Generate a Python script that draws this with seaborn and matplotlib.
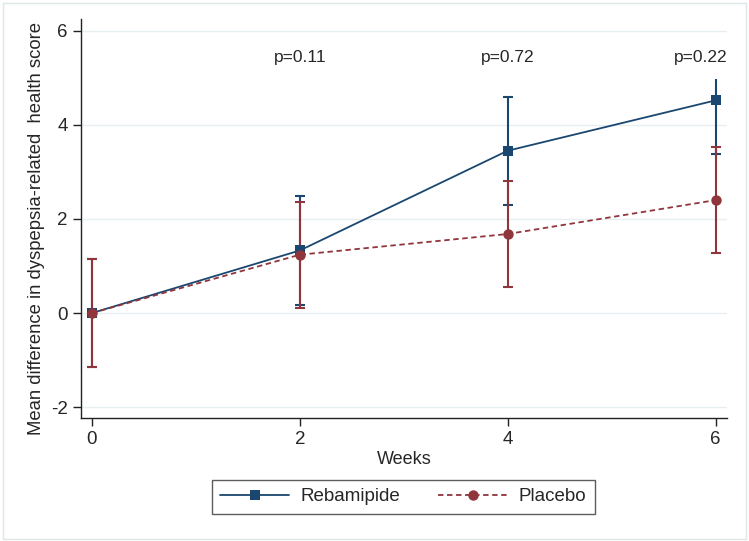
import pandas as pd
import matplotlib
matplotlib.use('Agg')
import matplotlib.pyplot as plt
import numpy as np
import seaborn as sns
from matplotlib.patches import Rectangle

## Data
weeks = [0, 2, 4, 6]
rebamipide_mean = [0.0, 1.33, 3.45, 4.52]
rebamipide_ci = [1.15, 1.16, 1.15, 1.14]
placebo_mean = [0.0, 1.24, 1.68, 2.40]
placebo_ci = [1.15, 1.13, 1.13, 1.13]
p_labels = ['p=0.11', 'p=0.72', 'p=0.22']
p_weeks = [2, 4, 5.86]
y_ticks = [-2, 0, 2, 4, 6]
y_ticklabels = ['-2', '0', '2', '4', '6']

blue = '#1a476f'
red = '#90353b'

df = pd.DataFrame({
    'Weeks': weeks + weeks,
    'score': rebamipide_mean + placebo_mean,
    'group': ['Rebamipide'] * 4 + ['Placebo'] * 4,
})

sns.set_style('white')
plt.rcParams['font.family'] = ['Liberation Sans', 'DejaVu Sans']

fig = plt.figure(figsize=(7.49, 5.41), dpi=100)
ax = fig.add_axes([0.108, 0.2274, 0.8626, 0.7375])

# confidence intervals
ax.errorbar(weeks, rebamipide_mean, yerr=rebamipide_ci, fmt='none', ecolor=blue,
            elinewidth=1.5, capsize=3.5, capthick=1.5, zorder=2)
ax.errorbar(weeks, placebo_mean, yerr=placebo_ci, fmt='none', ecolor=red,
            elinewidth=1.5, capsize=3.5, capthick=1.5, zorder=2.5)

sns.lineplot(data=df, x='Weeks', y='score', hue='group', style='group',
             palette={'Rebamipide': blue, 'Placebo': red},
             markers={'Rebamipide': 's', 'Placebo': 'o'},
             dashes={'Rebamipide': '', 'Placebo': (3, 2)},
             markersize=7.5, markeredgewidth=0, linewidth=1.3, ax=ax, zorder=3)

# red on top of blue
for ln in ax.get_lines():
    if matplotlib.colors.to_hex(ln.get_color()) == red:
        ln.set_zorder(4)

for lab, xw in zip(p_labels, p_weeks):
    ax.text(xw, 5.43, lab, ha='center', va='center', fontsize=12.5, zorder=6,
            bbox=dict(facecolor='white', edgecolor='none', pad=10))

ax.set_xlim(-0.106, 6.11)
ax.set_ylim(-2.23, 6.25)
ax.set_xticks(weeks)
ax.set_yticks(y_ticks)
ax.set_yticklabels(y_ticklabels)
ax.yaxis.grid(True, color='#e8eff1', linewidth=1)
ax.xaxis.grid(False)
ax.set_axisbelow(True)
for s in ['top', 'right']:
    ax.spines[s].set_visible(False)
for s in ['left', 'bottom']:
    ax.spines[s].set_color('#222222')
    ax.spines[s].set_linewidth(1)
ax.tick_params(axis='both', which='both', direction='out', length=6, width=1,
               color='#222222', labelsize=13.5, left=True, bottom=True)
ax.set_xlabel('Weeks', fontsize=13, labelpad=2)
ax.set_ylabel('Mean difference in dyspepsia-related  health score', fontsize=13.3)
ax.yaxis.set_label_coords(-0.056, 0.474)

handles, labels = ax.get_legend_handles_labels()
ax.legend_.remove()
leg = fig.legend(handles, labels, loc='center', bbox_to_anchor=(403 / 749, 1 - 496.5 / 541),
                 ncol=2, fontsize=13.5, frameon=True, fancybox=False, edgecolor='#333333',
                 handlelength=3.7, handletextpad=0.6, columnspacing=2.0, borderpad=0.45)
leg.get_frame().set_linewidth(1)

fig.patches.append(Rectangle((0.004, 0.004), 0.992, 0.99, transform=fig.transFigure,
                             fill=False, edgecolor='#dde6e8', linewidth=1))

fig.savefig('out.png', dpi=100)
